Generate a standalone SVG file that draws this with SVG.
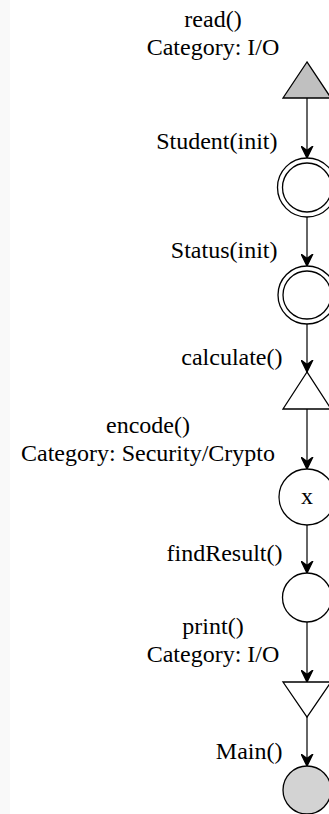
<svg xmlns="http://www.w3.org/2000/svg" width="329" height="814" viewBox="0 0 329 814">
<defs>
<style>
.lbl{font-family:"Liberation Serif","Times New Roman",serif;font-size:24px;fill:#000}
.node{stroke:#000;stroke-width:1.3;fill:#fff}
.edge{stroke:#333;stroke-width:1.5;fill:none}
</style>
<marker id="vee" viewBox="0 0 13 13" refX="12.5" refY="6.5" markerWidth="13" markerHeight="13" markerUnits="userSpaceOnUse" orient="auto">
<path d="M0.8,0.8 L12.5,6.5 L0.8,12.2 L5,6.5 Z" fill="#000" stroke="#000" stroke-width="1.4" stroke-linejoin="round"/>
</marker>
</defs>
<rect x="0" y="0" width="329" height="814" fill="#fff"/>
<rect x="0" y="0" width="10" height="814" fill="#f9f9f9"/>
<g id="edges">
<line class="edge" x1="307" y1="98" x2="307" y2="158" marker-end="url(#vee)"/>
<line class="edge" x1="307" y1="217" x2="307" y2="266" marker-end="url(#vee)"/>
<line class="edge" x1="307" y1="324" x2="307" y2="372" marker-end="url(#vee)"/>
<line class="edge" x1="307" y1="409" x2="307" y2="469" marker-end="url(#vee)"/>
<line class="edge" x1="307" y1="525" x2="307" y2="573" marker-end="url(#vee)"/>
<line class="edge" x1="307" y1="622" x2="307" y2="682" marker-end="url(#vee)"/>
<line class="edge" x1="307" y1="717" x2="307" y2="766" marker-end="url(#vee)"/>
</g>
<g id="read">
<polygon class="node" points="307,62 283,98 331,98" style="fill:#c0c0c0"/>
<text class="lbl" x="213" y="27" text-anchor="middle">read()</text>
<text class="lbl" x="213" y="55" text-anchor="middle">Category: I/O</text>
</g>
<g id="student">
<circle class="node" cx="307" cy="187.5" r="29.5"/>
<circle class="node" cx="307" cy="187.5" r="24.5"/>
<text class="lbl" x="277.5" y="149" text-anchor="end">Student(init)</text>
</g>
<g id="status">
<circle class="node" cx="307" cy="295" r="29"/>
<circle class="node" cx="307" cy="295" r="24"/>
<text class="lbl" x="277.5" y="258" text-anchor="end">Status(init)</text>
</g>
<g id="calculate">
<polygon class="node" points="307,372 283,409 331,409"/>
<text class="lbl" x="282.5" y="365" text-anchor="end">calculate()</text>
</g>
<g id="encode">
<circle class="node" cx="307" cy="497" r="28"/>
<text class="lbl" x="307" y="504" text-anchor="middle">x</text>
<text class="lbl" x="148" y="433" text-anchor="middle">encode()</text>
<text class="lbl" x="148" y="461" text-anchor="middle">Category: Security/Crypto</text>
</g>
<g id="findResult">
<circle class="node" cx="307" cy="597.5" r="24.5"/>
<text class="lbl" x="282.5" y="561" text-anchor="end">findResult()</text>
</g>
<g id="print">
<polygon class="node" points="283,682 331,682 307,717"/>
<text class="lbl" x="213" y="634" text-anchor="middle">print()</text>
<text class="lbl" x="213" y="662" text-anchor="middle">Category: I/O</text>
</g>
<g id="main">
<circle class="node" cx="307" cy="790" r="24" style="fill:#d3d3d3"/>
<text class="lbl" x="282.5" y="759" text-anchor="end">Main()</text>
</g>
</svg>
